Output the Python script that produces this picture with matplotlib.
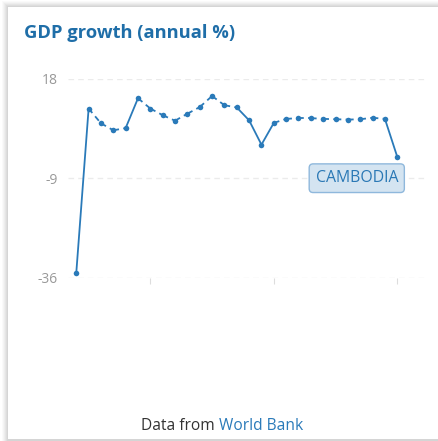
import matplotlib
matplotlib.use("Agg")
import matplotlib.pyplot as plt
from matplotlib.patches import Rectangle

# Cambodia, GDP growth (annual %)
years = list(range(1994, 2021))
growth = [-34.7, 9.9, 5.9, 4.0, 4.6, 12.7, 9.9, 8.1, 6.6, 8.5, 10.3, 13.3,
          10.8, 10.2, 6.7, 0.1, 6.0, 7.1, 7.3, 7.3, 7.1, 7.0, 6.9, 7.0, 7.4,
          7.1, -3.2]
y_ticks = [18, -9, -36]
x_ticks = [2000, 2010, 2020]
country = "CAMBODIA"
# segments drawn solid (start index); the rest are dashed
solid_segments = [0, 4, 13, 14, 15, 25]

BLUE = "#2a7ab9"
W, H = 438, 441

fig = plt.figure(figsize=(W / 100, H / 100), dpi=100)
fig.patch.set_facecolor("white")

# card with a soft shadow
for i, a in enumerate([0.04, 0.05, 0.06, 0.07, 0.08, 0.09]):
    off = 6 - i
    fig.patches.append(Rectangle(((8 - off) / W, 0), 1, (H - 7 + off) / H,
                                 transform=fig.transFigure, facecolor="#888888",
                                 alpha=a, edgecolor="none", zorder=0))
fig.patches.append(Rectangle((8 / W, 2 / H), 1, (H - 9) / H,
                             transform=fig.transFigure, facecolor="white",
                             edgecolor="none", zorder=1))

fig.text(24 / W, 1 - 33 / H, "GDP growth (annual %)", color="#1f6ea8",
         fontsize=13.2, fontweight="bold", family="Open Sans", va="center")

ax = fig.add_axes([68 / W, 1 - 277.7 / H, 360 / W, 199 / H])
ax.set_facecolor("none")
ax.set_zorder(2)

for i in range(len(years) - 1):
    xs = years[i:i + 2]
    ys = growth[i:i + 2]
    if i in solid_segments:
        ax.plot(xs, ys, color=BLUE, lw=1.3, solid_capstyle="butt", clip_on=False)
    else:
        ax.plot(xs, ys, color=BLUE, lw=1.3, dashes=(3.2, 2.4), clip_on=False)
ax.plot(years, growth, "o", color=BLUE, ms=4.0, mew=0, clip_on=False)

ax.set_xlim(1993.33, 2022.49)
ax.set_ylim(-36, 18)
ax.set_yticks(y_ticks)
ax.set_yticklabels([str(v) for v in y_ticks], family="Open Sans", fontsize=10,
                   color="#999999")
ax.set_xticks(x_ticks)
ax.set_xticklabels([])
ax.tick_params(axis="y", length=0, pad=7.5)
ax.tick_params(axis="x", length=4, width=0.8, color="#dddddd", pad=0)
for s in ax.spines.values():
    s.set_visible(False)
ax.grid(axis="y", color="#ebebeb", lw=1, dashes=(4, 3))

ax.text(2016.72, -9, country, color="#2a78b5", fontsize=11.4, family="Open Sans",
        ha="center", va="center", zorder=5,
        bbox=dict(boxstyle="round,pad=0.4,rounding_size=0.25", fc="#d4e4f1",
                  ec="#8fb8dc", lw=1))

fs = 11.2
full = fig.text(0, 0, "Data from World Bank", fontsize=fs, family="Open Sans")
part = fig.text(0, 0, "Data from ", fontsize=fs, family="Open Sans")
fig.canvas.draw()
r = fig.canvas.get_renderer()
fw = full.get_window_extent(renderer=r).width
pw = part.get_window_extent(renderer=r).width
full.remove()
part.remove()
start = 222 - fw / 2
fig.text(start / W, 1 - 426 / H, "Data from ", color="#333333", fontsize=fs,
         family="Open Sans", ha="left", va="center")
fig.text((start + pw) / W, 1 - 426 / H, "World Bank", color="#2a7ab9",
         fontsize=fs, family="Open Sans", ha="left", va="center")

fig.savefig("out.png", dpi=100)
